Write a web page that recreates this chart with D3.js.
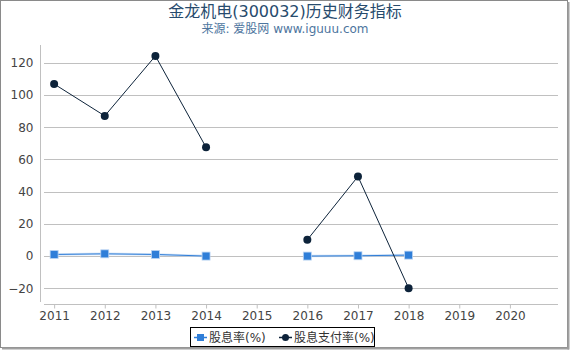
<!DOCTYPE html>
<html><head><meta charset="utf-8">
<script src="https://cdn.jsdelivr.net/npm/d3@7"></script>
<style>body{margin:0;background:#fff}svg{display:block}</style>
</head><body>
<svg id="c" width="570" height="350"></svg>
<script>
const years = [2011, 2012, 2013, 2014, 2015, 2016, 2017, 2018, 2019, 2020];
const dataYears = [2011, 2012, 2013, 2014, 2015, 2016, 2017, 2018];
const dividendYield = [1.0, 1.4, 1.0, 0.0, null, 0.0, 0.2, 0.6];
const payoutRatio = [106.8, 87.0, 124.2, 67.5, null, 10.1, 49.4, -19.9];
const yTicks = [-20, 0, 20, 40, 60, 80, 100, 120];
const seriesNames = ["股息率(%)", "股息支付率(%)"];
const title = "金龙机电(300032)历史财务指标";
const subtitle = "来源: 爱股网 www.iguuu.com";

const font = "'DejaVu Sans', 'Noto Sans CJK SC', sans-serif";
const svg = d3.select("#c");
const blue = "#2f7ed8", navy = "#0d233a";

// frame
svg.append("rect").attr("x",0.5).attr("y",0.5).attr("width",567).attr("height",347)
  .attr("fill","none").attr("stroke","#8a8a8a");
svg.append("line").attr("x1",568.5).attr("x2",568.5).attr("y1",2).attr("y2",349.5).attr("stroke","#a0a0a0").attr("stroke-width",2);
svg.append("line").attr("x1",2).attr("x2",569).attr("y1",348.5).attr("y2",348.5).attr("stroke","#a0a0a0").attr("stroke-width",2);

const x = d3.scaleLinear().domain([2010.8, 2020.95]).range([44, 558]);
const y = d3.scaleLinear().domain([-28.5, 131]).range([302, 45]);

// title
svg.append("text").attr("x",285).attr("y",17).attr("text-anchor","middle")
  .attr("font-family",font).attr("font-size",16).attr("fill","#274b6d").text(title);
svg.append("text").attr("x",285).attr("y",33).attr("text-anchor","middle")
  .attr("font-family",font).attr("font-size",12).attr("fill","#4d759e").text(subtitle);

// grid
svg.append("g").selectAll("line").data(yTicks).join("line")
  .attr("x1",44).attr("x2",558)
  .attr("y1",d=>Math.round(y(d))+0.5).attr("y2",d=>Math.round(y(d))+0.5)
  .attr("stroke","#c0c0c0").attr("stroke-width",1);

// y axis
const yAxis = svg.append("g").attr("transform","translate(40.5,0)")
  .call(d3.axisLeft(y).tickValues(yTicks).tickSize(0).tickPadding(7));
yAxis.select(".domain").attr("stroke","#c0c0c0").attr("d","M0,45V302");
yAxis.selectAll("text").attr("font-family",font).attr("font-size",12).attr("fill","#444");

// x axis
const xAxis = svg.append("g").attr("transform","translate(0,304.5)")
  .call(d3.axisBottom(x).tickValues(years).tickFormat(d3.format("d")).tickSize(4).tickPadding(3));
xAxis.select(".domain").attr("stroke","#c0c0c0").attr("d","M44,0H558");
xAxis.selectAll(".tick line").attr("stroke","#c0c0c0");
xAxis.selectAll("text").attr("font-family",font).attr("font-size",12).attr("fill","#444");

const line = d3.line().defined(d=>d[1]!==null).x(d=>x(d[0])).y(d=>y(d[1]));
const dy = dataYears.map((yr,i)=>[yr, dividendYield[i]]);
const pr = dataYears.map((yr,i)=>[yr, payoutRatio[i]]);

// dividend yield with soft halo
svg.append("path").datum(dy).attr("d",line).attr("fill","none")
  .attr("stroke","#b8d2f2").attr("stroke-width",2.5).attr("opacity",0.6);
svg.append("path").datum(dy).attr("d",line).attr("fill","none")
  .attr("stroke",blue).attr("stroke-width",1);
svg.append("g").selectAll("rect").data(dy.filter(d=>d[1]!==null)).join("rect")
  .attr("x",d=>x(d[0])-4).attr("y",d=>y(d[1])-4).attr("width",8).attr("height",8)
  .attr("fill",blue).attr("stroke","#bcd5f3").attr("stroke-width",0.8);

// payout ratio
svg.append("path").datum(pr).attr("d",line).attr("fill","none")
  .attr("stroke",navy).attr("stroke-width",1);
svg.append("g").selectAll("circle").data(pr.filter(d=>d[1]!==null)).join("circle")
  .attr("cx",d=>x(d[0])).attr("cy",d=>y(d[1])).attr("r",4).attr("fill",navy);

// legend
const lg = svg.append("g");
lg.append("rect").attr("x",190.5).attr("y",327.5).attr("width",184).attr("height",19)
  .attr("fill","#fff").attr("stroke","#000").attr("stroke-width",1);
lg.append("line").attr("x1",194).attr("x2",207).attr("y1",337.5).attr("y2",337.5).attr("stroke",blue).attr("stroke-width",1.5);
lg.append("rect").attr("x",197).attr("y",334).attr("width",7).attr("height",7).attr("fill",blue);
lg.append("text").attr("x",209).attr("y",342).attr("font-family",font).attr("font-size",12).attr("fill","#333").text(seriesNames[0]);
lg.append("line").attr("x1",279).attr("x2",292).attr("y1",337.5).attr("y2",337.5).attr("stroke",navy).attr("stroke-width",1.5);
lg.append("circle").attr("cx",285.5).attr("cy",337.5).attr("r",3.5).attr("fill",navy);
lg.append("text").attr("x",294).attr("y",342).attr("font-family",font).attr("font-size",12).attr("fill","#333").text(seriesNames[1]);
</script>
</body></html>
